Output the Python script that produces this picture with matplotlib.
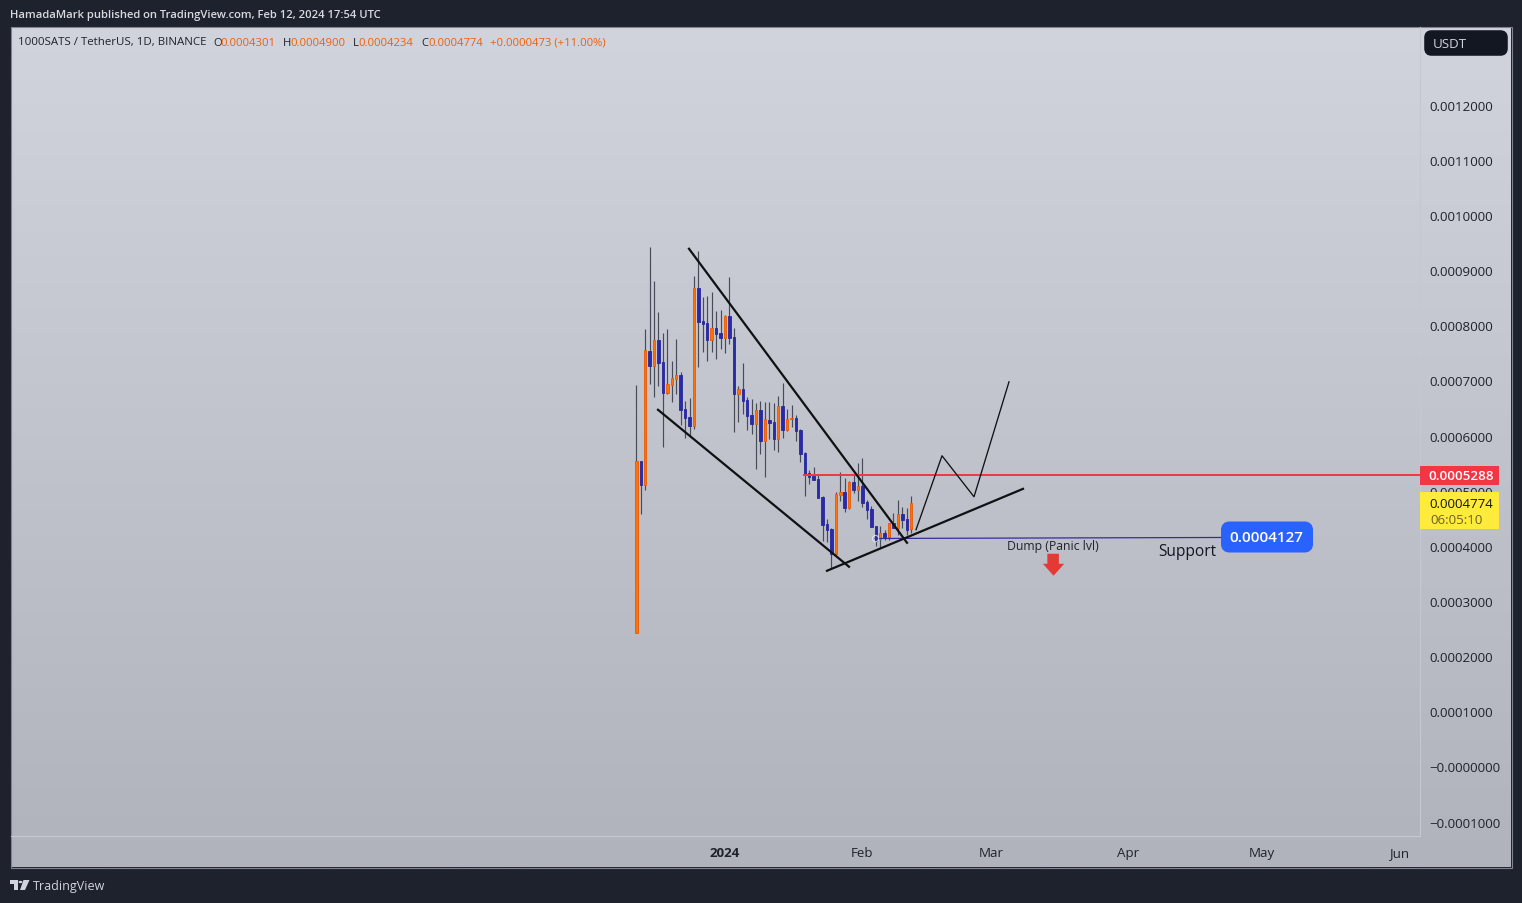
import numpy as np
import matplotlib
matplotlib.use("Agg")
import matplotlib.pyplot as plt
from matplotlib.patches import FancyBboxPatch, Polygon, Rectangle

# ---------- data (prices in units of 0.0001 USDT, days counted from 1 Jan 2024) ----------
PRICE_UNIT = 1e-4
FIRST_DAY = -20
OPEN = [2.424,5.530,5.095,7.538,7.266,7.738,7.339,6.777,6.922,7.031,7.103,6.487,6.342,6.178,8.681,8.082,
        8.046,7.738,7.955,7.865,7.774,8.173,7.792,6.759,6.850,6.650,6.378,6.215,6.469,5.906,6.287,6.251,
        5.942,6.541,6.106,6.305,6.324,6.106,5.688,5.325,5.271,5.217,4.891,4.401,4.310,3.856,4.927,4.981,
        4.691,5.162,5.017,5.090,4.800,4.673,4.364,4.129,4.238,4.165,4.419,4.328,4.582,4.491,4.301]
HIGH = [6.922,5.530,7.937,9.425,8.808,8.246,7.865,7.937,7.357,7.756,7.158,6.632,6.686,8.898,9.352,8.518,
        8.536,8.608,8.264,8.282,8.191,8.880,7.955,6.904,7.321,6.705,6.668,6.596,6.632,6.614,6.614,6.596,
        6.723,6.958,6.487,6.559,6.378,6.124,5.707,5.380,5.434,5.289,4.909,4.491,4.328,4.981,5.344,5.235,
        5.180,5.307,5.507,5.597,4.836,4.727,4.364,4.364,4.292,4.419,4.600,4.836,4.709,4.691,4.900]
LOW = [2.424,4.582,5.017,6.940,6.705,6.904,5.797,6.759,6.614,6.759,6.197,5.961,5.979,6.124,7.248,7.520,
       7.357,7.520,7.393,7.575,7.502,7.665,6.069,6.251,6.396,6.106,6.033,5.398,5.670,5.253,5.942,5.743,
       5.707,5.961,6.088,6.160,5.906,5.525,4.909,5.126,5.198,4.873,4.092,4.074,3.602,3.838,4.818,4.618,
       4.673,4.963,4.818,4.709,4.491,4.346,4.002,3.965,4.111,4.111,4.328,4.201,4.328,4.201,4.234]
CLOSE = [5.530,5.095,7.556,7.266,7.738,7.321,6.777,6.940,7.049,7.103,6.469,6.324,6.178,8.681,8.064,8.028,
         7.738,7.955,7.847,7.774,8.173,7.774,6.759,6.850,6.632,6.360,6.215,6.469,5.906,6.305,6.233,5.942,
         6.541,6.106,6.305,6.324,6.088,5.670,5.307,5.253,5.198,4.873,4.383,4.292,3.856,4.945,4.981,4.691,
         5.162,5.017,5.090,4.782,4.655,4.346,4.092,4.238,4.165,4.419,4.328,4.582,4.473,4.292,4.774]

Y_TICKS = [12, 11, 10, 9, 8, 7, 6, 5, 4, 3, 2, 1, 0, -1]
Y_LABELS = ["0.0012000", "0.0011000", "0.0010000", "0.0009000", "0.0008000", "0.0007000", "0.0006000",
            "0.0005000", "0.0004000", "0.0003000", "0.0002000", "0.0001000", "\u22120.0000000", "\u22120.0001000"]
X_TICKS = [0, 31, 60, 91, 121, 152]
X_LABELS = ["2024", "Feb", "Mar", "Apr", "May", "Jun"]

WEDGE_TOP_X, WEDGE_TOP_Y = [-8.12, 41.05], [9.388, 4.056]
WEDGE_LOW_X, WEDGE_LOW_Y = [-15.11, 27.97], [6.468, 3.621]
RISING_X, RISING_Y = [23.0, 67.21], [3.548, 5.034]
PROJ_X, PROJ_Y = [43.08, 48.94, 56.16, 64.05], [4.292, 5.634, 4.890, 6.975]
RESIST_X0, RESIST = 17.8, 5.288
SUPPORT_X, SUPPORT_Y = [33.83, 111.86], [4.134, 4.152]
ARROW_X = [72.7, 75.3, 75.3, 76.5, 74.1, 71.7, 72.7, 72.7]
ARROW_Y = [3.857, 3.857, 3.675, 3.675, 3.458, 3.675, 3.675, 3.857]

W, H = 1522, 904
FONT = "Open Sans"
UP, UP_EDGE, DOWN, DOWN_EDGE = "#ff7008", "#ee5a00", "#2a2aa8", "#2626a0"

plt.rcParams["font.family"] = FONT
fig = plt.figure(figsize=(W / 100, H / 100), dpi=100, facecolor="#1e222d")


def fx(x):
    return x / W


def fy(y):
    return 1 - y / H


def rect(x0, y0, x1, y1):
    return [fx(x0), fy(y1), (x1 - x0) / W, (y1 - y0) / H]


def ftext(x, y, s, color, size, ha="left", weight="normal", **kw):
    return fig.text(fx(x), fy(y), s, color=color, fontsize=size, ha=ha, va="center", fontweight=weight, zorder=20, **kw)


# chart background gradient
bg = fig.add_axes(rect(11, 28, 1511, 868), zorder=0)
ramp = np.linspace(0, 1, 256)[:, None, None]
grad = (1 - ramp) * np.array([[[209, 212, 220]]]) / 255 + ramp * np.array([[[176, 179, 188]]]) / 255
bg.imshow(grad, aspect="auto", interpolation="bilinear", extent=[0, 1, 0, 1])
bg.set_axis_off()
fig.add_artist(Rectangle((fx(10.5), fy(868.5)), 1501.5 / W, 841 / H, transform=fig.transFigure,
                         fill=False, ec="#80838e", lw=0.8, zorder=1))

# main pane
ax = fig.add_axes(rect(11, 28, 1420, 837), zorder=2)
ax.patch.set_alpha(0)
ax.set_xlim((11 - 725) / 4.434, (1420 - 725) / 4.434)
ax.set_ylim(-1.262, 13.410)
for s in ("top", "left"):
    ax.spines[s].set_visible(False)
ax.spines["right"].set_color("#c6c8cf")
ax.spines["bottom"].set_color("#c6c8cf")
ax.spines["right"].set_linewidth(0.8)
ax.spines["bottom"].set_linewidth(0.8)
ax.yaxis.tick_right()
ax.set_yticks(Y_TICKS, Y_LABELS)
ax.set_xticks(X_TICKS, X_LABELS)
ax.tick_params(axis="y", length=0, pad=7, labelsize=9.6, labelcolor="#20232c")
ax.tick_params(axis="x", length=0, pad=7, labelsize=9.6, labelcolor="#20232c")
ax.get_xticklabels()[0].set_fontweight("bold")

# candles
days = np.arange(len(OPEN)) + FIRST_DAY
o, h, l, c = map(np.array, (OPEN, HIGH, LOW, CLOSE))
is_up = c >= o
ax.vlines(days, l, h, color="#484b58", lw=0.85, zorder=3)
ax.bar(days[is_up], (c - o)[is_up], bottom=o[is_up], width=0.55, color=UP, edgecolor=UP_EDGE, lw=0.6, zorder=4)
ax.bar(days[~is_up], (o - c)[~is_up], bottom=c[~is_up], width=0.55, color=DOWN, edgecolor=DOWN_EDGE, lw=0.6, zorder=4)

# drawings
ax.plot(WEDGE_TOP_X, WEDGE_TOP_Y, color="#101114", lw=1.6, zorder=6)
ax.plot(WEDGE_LOW_X, WEDGE_LOW_Y, color="#101114", lw=1.6, zorder=6)
ax.plot(RISING_X, RISING_Y, color="#101114", lw=1.6, zorder=6)
ax.plot(PROJ_X, PROJ_Y, color="#101114", lw=0.95, zorder=6)
ax.plot([RESIST_X0, ax.get_xlim()[1]], [RESIST, RESIST], color="#f23645", lw=1.4, zorder=5)
ax.plot(SUPPORT_X, SUPPORT_Y, color="#3a2aa0", lw=0.9, zorder=5)
ax.plot(SUPPORT_X[:1], SUPPORT_Y[:1], "o", ms=4.5, mfc="none", mec="#e8e8f0", mew=0.8, alpha=0.8, zorder=6)
ax.add_patch(Polygon(np.column_stack([ARROW_X, ARROW_Y]), closed=True, color="#e53935", lw=0, zorder=6))

ftext(1007, 546.5, "Dump (Panic lvl)", "#20232c", 8.8)
ftext(1158, 552, "Support", "#131722", 11.2)

# blue support label
fig.add_artist(FancyBboxPatch((fx(1225), fy(549.5)), 84 / W, 23 / H, boxstyle="round,pad=0,rounding_size=0.003",
                              transform=fig.transFigure, fc="#2962ff", ec="#2962ff", lw=8 * 0.72, zorder=15,
                              mutation_aspect=W / H))
ftext(1266.5, 538.5, "0.0004127", "#ffffff", 11, ha="center", weight="semibold")

# price labels
fig.add_artist(Rectangle((fx(1420), fy(486)), 79 / W, 19.5 / H, transform=fig.transFigure, fc="#f23645", ec="none", zorder=15))
ftext(1461, 477, "0.0005288", "#ffffff", 9.6, ha="center", weight="semibold")
fig.add_artist(Rectangle((fx(1420), fy(530)), 79 / W, 37 / H, transform=fig.transFigure, fc="#ffeb3b", ec="none", zorder=15))
ftext(1461, 505, "0.0004774", "#131722", 9.6, ha="center")
ftext(1457, 520, "06:05:10", "#6b6420", 9.6, ha="center")

# currency button
fig.add_artist(FancyBboxPatch((fx(1427), fy(54)), 78 / W, 20 / H, boxstyle="round,pad=0,rounding_size=0.003",
                              transform=fig.transFigure, fc="#131722", ec="#131722", lw=4, zorder=15,
                              mutation_aspect=W / H))
ftext(1433, 44.5, "USDT", "#d1d4dc", 9.6)

# header
ftext(10, 15.5, "HamadaMark published on TradingView.com, Feb 12, 2024 17:54 UTC", "#d8dae0", 8.1, weight="medium")
LEG_DARK, LEG_ORANGE = "#20232c", "#ef5f0c"
ftext(18, 43, "1000SATS / TetherUS, 1D, BINANCE", LEG_DARK, 8.27)
for x, s, col in [(213, "O", LEG_DARK), (220.5, "0.0004301", LEG_ORANGE), (282.5, "H", LEG_DARK),
                  (290.5, "0.0004900", LEG_ORANGE), (353, "L", LEG_DARK), (358.5, "0.0004234", LEG_ORANGE),
                  (421, "C", LEG_DARK), (428, "0.0004774", LEG_ORANGE),
                  (489.5, "+0.0000473 (+11.00%)", LEG_ORANGE)]:
    ftext(x, 43, s, col, 8.15)

# footer logo
LOGO = "#d1d4dc"
for pts in ([(10, 881), (18, 881), (18, 891), (14, 891), (14, 885), (10, 885)],
            [(23.5, 881), (29.5, 881), (25, 891), (20, 891)]):
    fig.add_artist(Polygon([(fx(x), fy(y)) for x, y in pts], closed=True, transform=fig.transFigure, fc=LOGO, ec="none"))
fig.add_artist(plt.Circle((fx(20.5), fy(883)), 2 / W, transform=fig.transFigure, fc=LOGO, ec="none"))
ftext(33, 886.5, "TradingView", "#d1d4dc", 9.0)

fig.savefig("out.png", dpi=100, facecolor=fig.get_facecolor())
